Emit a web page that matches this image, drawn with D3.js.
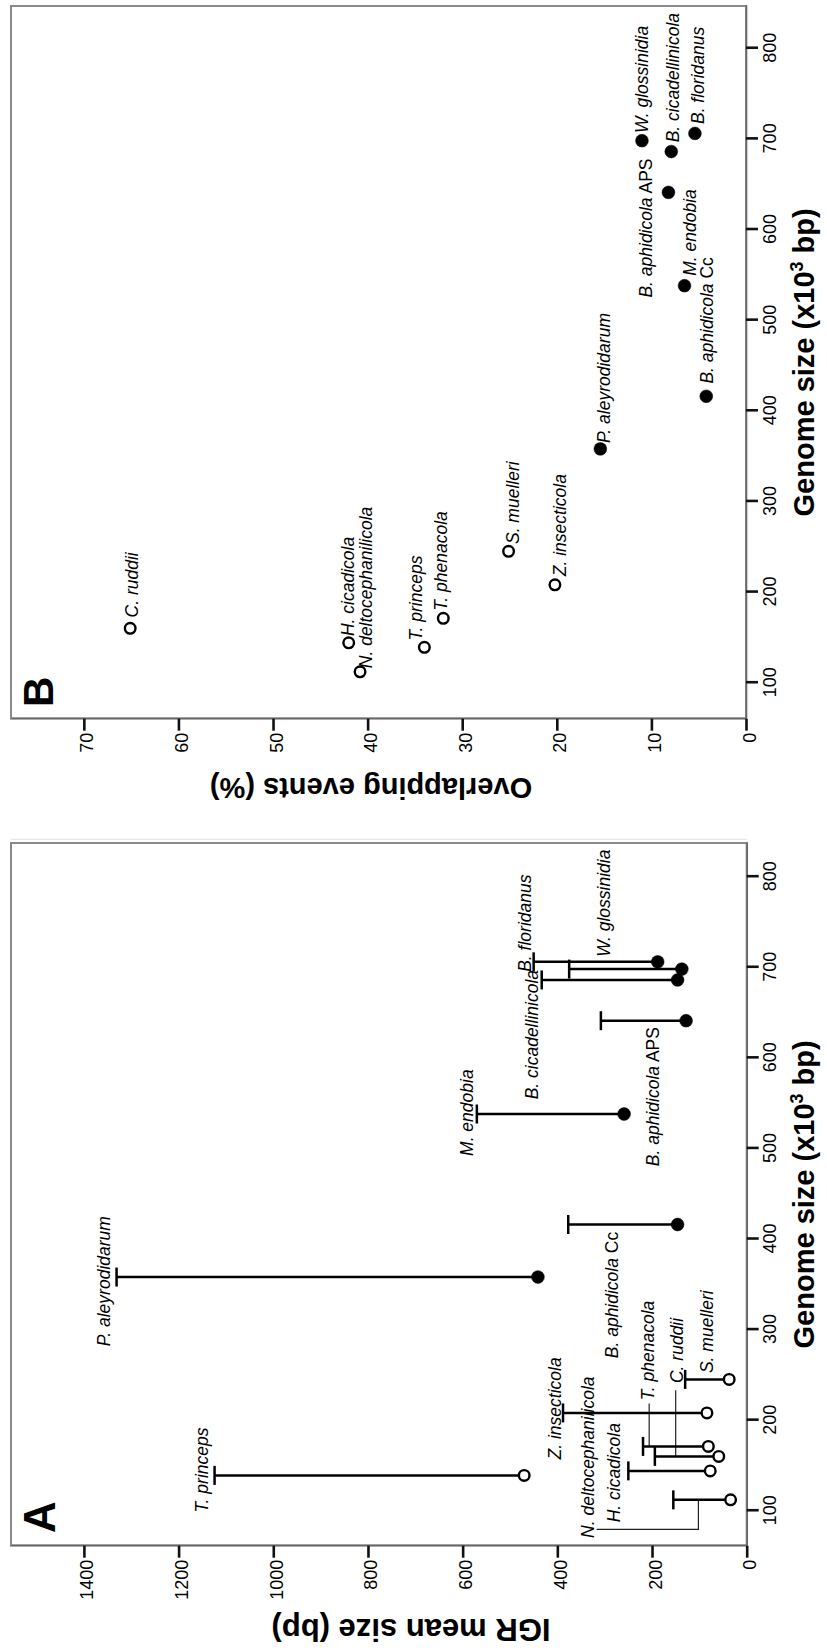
<!DOCTYPE html>
<html><head><meta charset="utf-8">
<script src="https://cdn.jsdelivr.net/npm/d3@7"></script>
<style>
body{margin:0;background:#fff}
svg{display:block}
text{font-family:"Liberation Sans",Arial,sans-serif;fill:#000}
</style>
</head><body>
<svg id="chart" width="827" height="1652"></svg>
<script>
// ---------- data ----------
const species = ["T. princeps","H. cicadicola","N. deltocephanilicola","T. phenacola","C. ruddii",
  "Z. insecticola","S. muelleri","P. aleyrodidarum","B. aphidicola","M. endobia",
  "B. aphidicola","B. cicadellinicola","W. glossinidia","B. floridanus"];
const strainSuffix = ["","","","","","","","","Cc","","APS","","",""];
const genomeSize = [139,144,112,171,160,208,245,358,416,538,641,686,698,706];      // x10^3 bp
const igrMean    = [470,77,34,81,59,84,37,441,146,259,128,146,137,188];            // bp
const igrUpper   = [1124,250,155,219,194,388,130,1331,377,570,308,433,375,450];    // bp (mean + SD)
const overlapPct = [34.0,42.0,40.8,32.0,65.1,20.2,25.1,15.4,4.2,6.5,8.2,7.9,11.0,5.4];
const openMarker = [true,true,true,true,true,true,true,false,false,false,false,false,false,false];
const genomeTicks  = [100,200,300,400,500,600,700,800];
const igrTicks     = [0,200,400,600,800,1000,1200,1400];
const overlapTicks = [0,10,20,30,40,50,60,70];

// ---------- annotation placement (data units) ----------
const labelPlaceA = [["middle",145,1138],["middle",142,267],["start",70,323],["start",222,196],["start",241,135],
  ["middle",213,393],["start",252,72],["middle",353.5,1345],["end",408,271],["middle",539.5,579],
  ["end",634,186],["end",697,441],["start",711.5,289],["start",695,455]];
const leadersA = [[[112,102],[79.5,102],[79.5,317]], [[171,206],[218.5,206]], [[160,150],[233,150]]];
const labelPlaceB = [["start",146.5,34.2],["start",151.5,41.4],["start",116,39.5],["start",179.4,31.6],["start",172,64.3],
  ["start",217.5,19.0],["start",253,24.0],["start",364.4,14.4],["start",430,3.5],["start",549,5.3],
  ["end",678.4,9.9],["start",696.2,7.1],["start",706.4,10.4],["start",716.4,4.4]];

const svg = d3.select("#chart");
svg.append("line").attr("x1",11).attr("x2",747).attr("y1",839.3).attr("y2",839.3)
  .attr("stroke","#e2e2e2").attr("stroke-width",1);

function addLabel(g, x, y, anchor, i, size){
  const t = g.append("text").attr("x",x).attr("y",y).attr("text-anchor",anchor)
    .style("font-size",size+"px");
  t.append("tspan").style("font-style","italic").text(species[i]);
  if(strainSuffix[i]) t.append("tspan").text(" "+strainSuffix[i]);
}

function panel(opt){
  // drawn in the original (landscape) orientation, then rotated 90deg CCW
  const g = svg.append("g").attr("transform",`translate(0,${opt.base}) rotate(-90)`);
  const W = opt.W, top = 11, bottom = opt.axisY;
  const x = d3.scaleLinear().domain(opt.gDomain).range([0,W]);
  const y = d3.scaleLinear().domain(opt.vDomain).range([bottom, top]);

  g.append("rect").attr("x",0).attr("y",top).attr("width",W).attr("height",bottom-top)
    .attr("fill","none").attr("stroke","#8a8a8a").attr("stroke-width",2);

  const ax = g.append("g").attr("transform",`translate(0,${bottom})`)
    .call(d3.axisBottom(x).tickValues(genomeTicks).tickFormat(d3.format("d"))
      .tickSize(12).tickSizeOuter(0).tickPadding(5));
  const ay = g.append("g")
    .call(d3.axisLeft(y).tickValues(opt.vTicks).tickFormat(d3.format("d"))
      .tickSize(12).tickSizeOuter(0).tickPadding(2));
  [ax,ay].forEach(a=>{
    a.select(".domain").attr("stroke","#666").attr("stroke-width",1.6);
    a.selectAll(".tick line").attr("stroke","#111").attr("stroke-width",2.6);
    a.selectAll(".tick text").style("font-size","18px").attr("fill","#111")
      .style("font-family",'"Liberation Sans",Arial,sans-serif');
  });
  ay.selectAll(".tick text").attr("dy","0.5em");

  // axis titles
  const xt = g.append("text").attr("x",W/2).attr("y",814).attr("text-anchor","middle")
    .style("font-size","29px").style("font-weight","bold");
  xt.append("tspan").text("Genome size (x10");
  xt.append("tspan").attr("dy",-11).style("font-size","18px").text("3");
  xt.append("tspan").attr("dy",11).text(" bp)");
  g.append("text").attr("transform",`translate(${opt.yTitleX},${opt.yTitleC}) rotate(-90)`)
    .attr("text-anchor","middle").style("font-size",opt.yTitleSize+"px").style("font-weight","bold").text(opt.yTitle);

  g.append("text").attr("x",opt.letterX).attr("y",opt.letterY).style("font-size",opt.letterSize+"px")
    .style("font-weight","bold").text(opt.letter);
  return {g,x,y};
}

// ---------- Panel A ----------
const A = panel({base:1545.7, W:702.7, axisY:746.7, gDomain:[61.4,837.2], vDomain:[0,1554],
  vTicks:igrTicks, yTitle:"IGR mean size (bp)", yTitleX:-73.3, yTitleC:411, yTitleSize:31,
  letter:"A", letterX:12.7, letterY:55, letterSize:44});
const idx = d3.range(species.length);
const line = d3.line().x(d=>A.x(d[0])).y(d=>A.y(d[1]));
A.g.append("g").selectAll("path").data(leadersA).join("path")
  .attr("d",line).attr("fill","none").attr("stroke","#222").attr("stroke-width",1.2);
const bars = A.g.append("g").attr("stroke","#000").attr("stroke-width",2.5);
bars.selectAll("line.v").data(idx).join("line").attr("class","v")
  .attr("x1",i=>A.x(genomeSize[i])).attr("x2",i=>A.x(genomeSize[i]))
  .attr("y1",i=>A.y(igrMean[i])).attr("y2",i=>A.y(igrUpper[i]));
bars.selectAll("line.c").data(idx).join("line").attr("class","c")
  .attr("x1",i=>A.x(genomeSize[i])-9.5).attr("x2",i=>A.x(genomeSize[i])+9.5)
  .attr("y1",i=>A.y(igrUpper[i])).attr("y2",i=>A.y(igrUpper[i]));
A.g.append("g").selectAll("circle").data(idx).join("circle")
  .attr("cx",i=>A.x(genomeSize[i])).attr("cy",i=>A.y(igrMean[i]))
  .attr("r",i=>openMarker[i]?5.3:6.4)
  .attr("fill",i=>openMarker[i]?"#fff":"#000").attr("stroke","#000")
  .attr("stroke-width",i=>openMarker[i]?2.4:0.5);
idx.forEach(i=>{
  const p = labelPlaceA[i];
  addLabel(A.g, A.x(p[1]), A.y(p[2]), p[0], i, 17.5);
});

// ---------- Panel B ----------
const B = panel({base:718.7, W:712.7, axisY:746, gDomain:[60.3,846.6], vDomain:[0,77.7],
  vTicks:overlapTicks, yTitle:"Overlapping events (%)", yTitleX:-58.9, yTitleC:371, yTitleSize:29,
  letter:"B", letterX:11.7, letterY:53, letterSize:42});
B.g.append("g").selectAll("circle").data(idx).join("circle")
  .attr("cx",i=>B.x(genomeSize[i])).attr("cy",i=>B.y(overlapPct[i]))
  .attr("r",i=>openMarker[i]?5.3:6.4)
  .attr("fill",i=>openMarker[i]?"#fff":"#000").attr("stroke","#000")
  .attr("stroke-width",i=>openMarker[i]?2.4:0.5);
idx.forEach(i=>{
  const p = labelPlaceB[i];
  addLabel(B.g, B.x(p[1]), B.y(p[2]), p[0], i, 17.5);
});
</script>
</body></html>
